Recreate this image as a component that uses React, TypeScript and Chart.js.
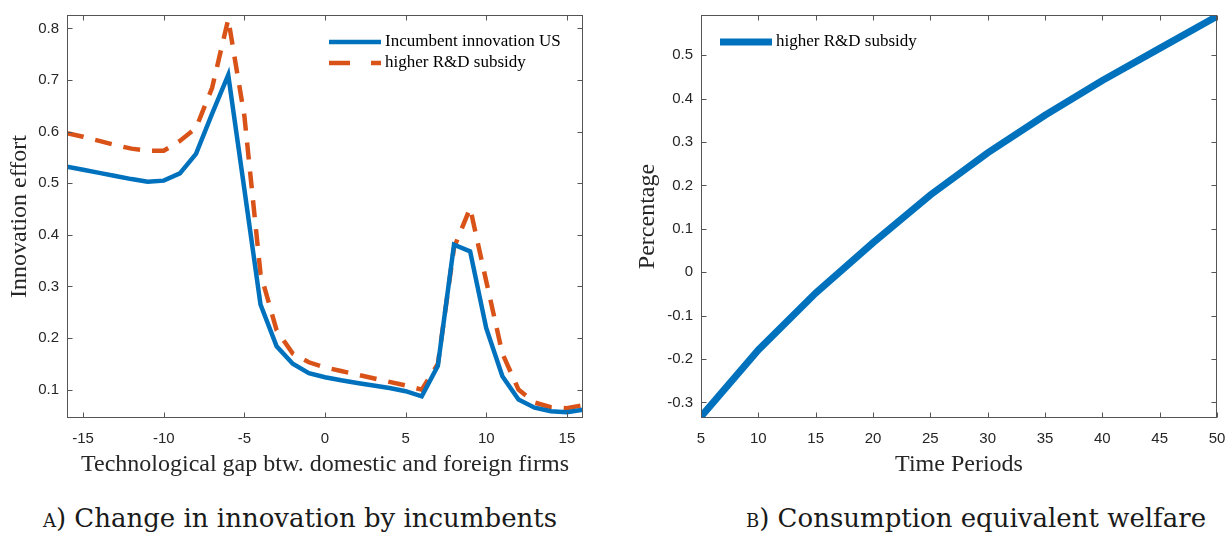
import React, { useEffect, useRef } from "react";
import { Chart, registerables } from "chart.js";

Chart.register(...registerables);

// ---------- Data: panel A ----------
const gapX = [-16, -15, -14, -13, -12, -11, -10, -9, -8, -7, -6, -5, -4, -3, -2, -1, 0, 1, 2, 3, 4, 5, 6, 7, 8, 9, 10, 11, 12, 13, 14, 15, 16];
const incumbentUS = [0.532, 0.526, 0.520, 0.514, 0.508, 0.503, 0.505, 0.519, 0.557, 0.635, 0.710, 0.488, 0.265, 0.184, 0.150, 0.132, 0.124, 0.118, 0.113, 0.108, 0.103, 0.097, 0.087, 0.146, 0.381, 0.368, 0.219, 0.126, 0.081, 0.065, 0.058, 0.056, 0.061];
const higherSubsidy = [0.597, 0.590, 0.582, 0.574, 0.567, 0.563, 0.563, 0.582, 0.607, 0.685, 0.818, 0.630, 0.325, 0.215, 0.170, 0.153, 0.143, 0.136, 0.129, 0.122, 0.115, 0.108, 0.100, 0.150, 0.375, 0.452, 0.310, 0.170, 0.100, 0.075, 0.066, 0.064, 0.070];
const leftXTicks = [-15, -10, -5, 0, 5, 10, 15];
const leftYTicks = [0.1, 0.2, 0.3, 0.4, 0.5, 0.6, 0.7, 0.8];

// ---------- Data: panel B ----------
const periods = [5, 10, 15, 20, 25, 30, 35, 40, 45, 50];
const welfare = [-0.333, -0.179, -0.048, 0.068, 0.178, 0.275, 0.362, 0.442, 0.516, 0.590];
const rightXTicks = [5, 10, 15, 20, 25, 30, 35, 40, 45, 50];
const rightYTicks = [-0.3, -0.2, -0.1, 0, 0.1, 0.2, 0.3, 0.4, 0.5];

const BLUE = "#0072BD";
const ORANGE = "#D95319";
const AXIS = "#262626";
const TICK_FONT = { family: "'Liberation Sans', Arial, sans-serif", size: 15 };
const TITLE_FONT = { family: "'Liberation Serif', 'Times New Roman', serif", size: 24 };

const boxPlugin = {
  id: "matlabBox",
  afterDatasetsDraw(chart: any) {
    const { ctx, chartArea, scales } = chart;
    const L = Math.round(chartArea.left) + 0.5;
    const R = Math.round(chartArea.right) - 0.5;
    const T = Math.round(chartArea.top) + 0.5;
    const B = Math.round(chartArea.bottom) - 0.5;
    const tl = 5;
    ctx.save();
    ctx.strokeStyle = "#555555";
    ctx.lineWidth = 1;
    ctx.setLineDash([]);
    ctx.strokeRect(L, T, R - L, B - T);
    ctx.beginPath();
    for (const t of scales.x.ticks) {
      const px = Math.round(scales.x.getPixelForValue(t.value)) + 0.5;
      ctx.moveTo(px, B); ctx.lineTo(px, B - tl);
      ctx.moveTo(px, T); ctx.lineTo(px, T + tl);
    }
    for (const t of scales.y.ticks) {
      const py = Math.round(scales.y.getPixelForValue(t.value)) + 0.5;
      ctx.moveTo(L, py); ctx.lineTo(L + tl, py);
      ctx.moveTo(R, py); ctx.lineTo(R - tl, py);
    }
    ctx.stroke();
    ctx.restore();
  },
};

const legendPlugin = {
  id: "inLegend",
  afterDraw(chart: any, _args: any, opts: any) {
    if (!opts || !opts.items) return;
    const { ctx } = chart;
    opts.items.forEach((it: any, i: number) => {
      const y = opts.y + i * opts.rowH;
      ctx.save();
      ctx.strokeStyle = it.color;
      ctx.lineWidth = it.width;
      ctx.lineCap = "butt";
      ctx.setLineDash(it.dash || []);
      ctx.beginPath();
      ctx.moveTo(opts.x, y);
      ctx.lineTo(opts.x + opts.len, y);
      ctx.stroke();
      ctx.setLineDash([]);
      ctx.fillStyle = "#000000";
      ctx.font = "17px 'Liberation Serif', 'Times New Roman', serif";
      ctx.textBaseline = "middle";
      ctx.textAlign = "left";
      ctx.fillText(it.label, opts.x + opts.len + 4, y);
      ctx.restore();
    });
  },
};

function fmtY(v: number) {
  if (Math.abs(v) < 1e-9) return "0";
  return v.toFixed(1);
}

function makeScales(cfg: any) {
  return {
    x: {
      type: "linear",
      min: cfg.xMin,
      max: cfg.xMax,
      grid: { display: false, drawTicks: false },
      border: { display: false },
      afterBuildTicks: (s: any) => { s.ticks = cfg.xTicks.map((v: number) => ({ value: v })); },
      afterFit: (s: any) => {
        s.height = cfg.xAxisH;
        s.paddingLeft = 0;
        s.paddingRight = 0;
      },
      ticks: { padding: 12, color: AXIS, font: TICK_FONT, maxRotation: 0, autoSkip: false, callback: (v: any) => String(v) },
      title: { display: true, text: cfg.xTitle, color: AXIS, font: TITLE_FONT, padding: { top: 0, bottom: 10.5 } },
    },
    y: {
      type: "linear",
      min: cfg.yMin,
      max: cfg.yMax,
      grid: { display: false, drawTicks: false },
      border: { display: false },
      afterBuildTicks: (s: any) => { s.ticks = cfg.yTicks.map((v: number) => ({ value: v })); },
      afterFit: (s: any) => {
        s.width = cfg.yAxisW;
        s.paddingTop = 0;
        s.paddingBottom = 0;
      },
      ticks: { padding: 8, color: AXIS, font: TICK_FONT, autoSkip: false, callback: (v: any) => fmtY(v) },
      title: { display: true, text: cfg.yTitle, color: AXIS, font: TITLE_FONT, padding: { top: cfg.yTitlePad, bottom: 0 } },
    },
  };
}

function ChartCanvas({ config, width, height, left }: any) {
  const ref = useRef<HTMLCanvasElement | null>(null);
  useEffect(() => {
    if (!ref.current) return;
    const chart = new Chart(ref.current, config);
    return () => chart.destroy();
  }, []);
  return (
    <canvas
      ref={ref}
      width={width}
      height={height}
      style={{ position: "absolute", left, top: 0, width, height }}
    />
  );
}

const leftConfig: any = {
  type: "line",
  data: {
    datasets: [
      {
        label: "Incumbent innovation US",
        data: gapX.map((x, i) => ({ x, y: incumbentUS[i] })),
        borderColor: BLUE,
        borderWidth: 4.5,
        pointRadius: 0,
        tension: 0,
        clip: 0,
      },
      {
        label: "higher R&D subsidy",
        data: gapX.map((x, i) => ({ x, y: higherSubsidy[i] })),
        borderColor: ORANGE,
        borderWidth: 4.5,
        borderDash: [17, 12],
        pointRadius: 0,
        tension: 0,
        clip: 0,
      },
    ],
  },
  options: {
    animation: false,
    responsive: false,
    events: [],
    layout: { padding: { top: 15, right: 17, left: 0, bottom: 0 } },
    plugins: {
      legend: { display: false },
      tooltip: { enabled: false },
      inLegend: {
        x: 329,
        y: 42,
        rowH: 21,
        len: 52,
        items: [
          { label: "Incumbent innovation US", color: BLUE, width: 4.5 },
          { label: "higher R&D subsidy", color: ORANGE, width: 4.5, dash: [21, 21] },
        ],
      },
    },
    scales: makeScales({
      xMin: -16, xMax: 16, xTicks: leftXTicks, xAxisH: 72,
      xTitle: "Technological gap btw. domestic and foreign firms",
      yMin: 0.045, yMax: 0.826, yTicks: leftYTicks, yAxisW: 67,
      yTitle: "Innovation effort", yTitlePad: 5,
    }),
  },
  plugins: [boxPlugin, legendPlugin],
};

const rightConfig: any = {
  type: "line",
  data: {
    datasets: [
      {
        label: "higher R&D subsidy",
        data: periods.map((x, i) => ({ x, y: welfare[i] })),
        borderColor: BLUE,
        borderWidth: 7,
        pointRadius: 0,
        tension: 0,
        clip: 0,
      },
    ],
  },
  options: {
    animation: false,
    responsive: false,
    events: [],
    layout: { padding: { top: 15, right: 11, left: 0, bottom: 0 } },
    plugins: {
      legend: { display: false },
      tooltip: { enabled: false },
      inLegend: {
        x: 106,
        y: 42,
        rowH: 21,
        len: 52,
        items: [{ label: "higher R&D subsidy", color: BLUE, width: 7 }],
      },
    },
    scales: makeScales({
      xMin: 5, xMax: 50, xTicks: rightXTicks, xAxisH: 72,
      xTitle: "Time Periods",
      yMin: -0.336, yMax: 0.593, yTicks: rightYTicks, yAxisW: 87,
      yTitle: "Percentage", yTitlePad: 19,
    }),
  },
  plugins: [boxPlugin, legendPlugin],
};

const captionStyle: any = {
  position: "absolute",
  top: 505,
  fontFamily: "'DejaVu Serif', serif",
  fontSize: 26,
  lineHeight: "26px",
  color: "#1a1a1a",
  whiteSpace: "nowrap",
  transform: "translateX(-50%)",
};

export default function App() {
  return (
    <div
      style={{
        position: "fixed",
        left: 0,
        top: 0,
        width: 1228,
        height: 537,
        background: "#ffffff",
        overflow: "hidden",
      }}
    >
      <ChartCanvas config={leftConfig} width={600} height={490} left={0} />
      <ChartCanvas config={rightConfig} width={614} height={490} left={614} />
      <div style={{ ...captionStyle, left: 300 }}>
        <span style={{ fontVariant: "small-caps" }}>a</span>) Change in innovation by incumbents
      </div>
      <div style={{ ...captionStyle, left: 976 }}>
        <span style={{ fontVariant: "small-caps" }}>b</span>) Consumption equivalent welfare
      </div>
    </div>
  );
}
